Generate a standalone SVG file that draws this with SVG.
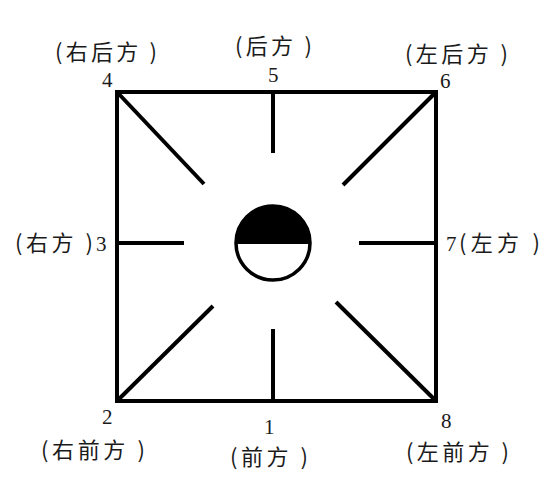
<svg xmlns="http://www.w3.org/2000/svg" width="556" height="500" viewBox="0 0 556 500">
<style>
.ln{stroke:#000;stroke-width:4;fill:none;stroke-linecap:butt}
.t{font-family:"Noto Sans CJK SC",sans-serif;font-size:22px;fill:#1a1a1a}
.d{font-family:"Liberation Serif",serif;font-size:21px;fill:#1a1a1a}
</style>
<rect width="556" height="500" fill="#fff"/>
<g id="connectors">
<rect class="ln" x="117" y="92" width="319" height="309"/>
<line class="ln" x1="117" y1="92" x2="204" y2="184"/>
<line class="ln" x1="273" y1="92" x2="273" y2="153"/>
<line class="ln" x1="436" y1="92" x2="343" y2="185"/>
<line class="ln" x1="117" y1="243" x2="184" y2="243"/>
<line class="ln" x1="359" y1="243" x2="436" y2="243"/>
<line class="ln" x1="117" y1="401" x2="213" y2="306"/>
<line class="ln" x1="273" y1="329" x2="273" y2="401"/>
<line class="ln" x1="436" y1="401" x2="336" y2="302"/>
</g>
<g id="center">
<path d="M236 243 A37 37 0 0 1 310 243 Z" fill="#000"/>
<circle cx="273" cy="243" r="37" fill="none" stroke="#000" stroke-width="3.5"/>
<line x1="236" y1="243" x2="310" y2="243" stroke="#000" stroke-width="2"/>
</g>
<g id="n4"><text class="d" x="102" y="87">4</text><text class="t" x="55" y="60" textLength="102" lengthAdjust="spacing">(右后方 )</text></g>
<g id="n5"><text class="d" x="268" y="82">5</text><text class="t" x="235" y="54" textLength="77" lengthAdjust="spacing">(后方 )</text></g>
<g id="n6"><text class="d" x="440" y="88">6</text><text class="t" x="405" y="62" textLength="103" lengthAdjust="spacing">(左后方 )</text></g>
<g id="n3"><text class="t" x="15" y="251" textLength="78" lengthAdjust="spacing">(右方 )</text><text class="d" x="96" y="251">3</text></g>
<g id="n7"><text class="d" x="446" y="251">7</text><text class="t" x="459" y="251" textLength="81" lengthAdjust="spacing">(左方 )</text></g>
<g id="n2"><text class="d" x="102" y="424">2</text><text class="t" x="41" y="458" textLength="104" lengthAdjust="spacing">(右前方 )</text></g>
<g id="n1"><text class="d" x="264" y="434">1</text><text class="t" x="230" y="465" textLength="78" lengthAdjust="spacing">(前方 )</text></g>
<g id="n8"><text class="d" x="441" y="428">8</text><text class="t" x="406" y="460" textLength="103" lengthAdjust="spacing">(左前方 )</text></g>
</svg>
